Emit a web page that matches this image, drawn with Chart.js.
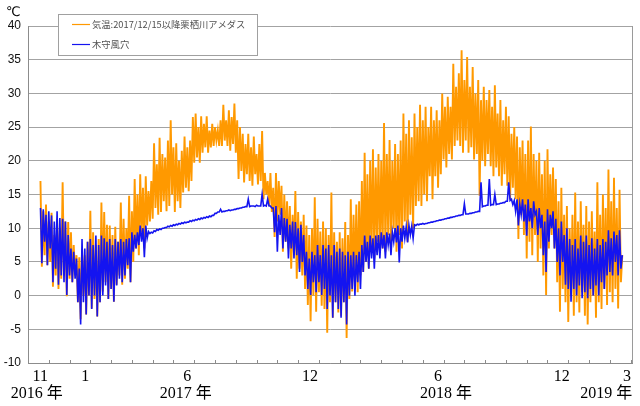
<!DOCTYPE html>
<html>
<head>
<meta charset="utf-8">
<script src="https://cdn.jsdelivr.net/npm/chart.js@4.4.1/dist/chart.umd.min.js"></script>
<style>
html,body{margin:0;padding:0;background:#fff;}
#wrap{width:640px;height:406px;position:relative;}
</style>
</head>
<body>
<div id="wrap"><canvas id="c"></canvas></div>
<script>
// x values: days since 2016-10-17 (axis start). Samples every 4 days, high then low 2 days later.
const sampleStartDay = 18;
const sampleStep = 4;

// 気温 (orange): upper and lower swings
const airHigh = [17,12.5,13.5,11,12.3,9,11.4,10,16.8,11,10.9,9.4,7.5,6,5.7,7,6,8,12.6,9.4,
7.5,8.4,13.8,12.4,10.5,10.4,9,10.2,8,13.8,11.4,10,14.8,12.5,17.3,15,18,16,17.7,15.5,
17,22.6,19.5,23.4,21,20.5,23,26,22,22.6,20,21.5,23.6,22,23,26.5,27,25,26.6,25.5,
26.6,24.5,25.5,25,24.5,26,28.3,26,27.5,26.5,28.5,26,25,24,22.5,24,22,23.6,21,22.5,
24.4,18.2,17,18.2,16,18.2,17,16.3,15,14,13.3,12,15.5,12.4,11,12,10.4,9,10,14.6,
11.4,9.5,11,10,9,15.3,9.4,8,9.4,8.5,10.9,9,14.3,12,13.5,14,17,21.2,18,20,
21.7,19,21,20,25.6,21,23.1,20,22.5,21,23,27,24,26,23.5,27,25,28.3,26,28,
25,28,26,27.5,26,30,28,29.5,28,34.4,31,33,36.4,32,35.4,31,33.9,30,32,29,
31,29,30.5,28,31.2,27,29,26,28,26.6,24,25,23.6,22,23,21,23,25.1,21,20,
21.2,18,20,21.7,18,19,17.3,14,16,12,13.3,10,12,15.3,11,14,10.5,13.3,11,12.5,
9.5,16.8,12,15,13,18.7,14,17.5,13,15.7,6];
const airLow = [4.3,6,4.5,5,1.3,3,1,2.5,3,-0.1,2.5,2,3,-1,-3.5,0,-2.8,0,-1.9,-0.5,
-3.1,-1,0.6,2,-0.5,1,-0.9,1.6,3,1.6,2.5,4,2,5,7,6,9.4,7,10.4,11,
11.4,13,12,12.4,14,12.5,13.3,15,12.4,14,13,15.3,16,15.5,17,19.7,20.5,19.7,21.2,22,
21.2,22,22.2,23,22.2,22.2,23,22.2,21.5,22.5,21.2,17.3,18.5,16.8,18,17,16.3,18,16.5,17,
14.3,15,13.3,12.4,8.7,11,12,6.5,8,7,4,6,2.5,4,3,1,-1.4,-3.8,0,-2.4,
0.5,-1.5,-2,-5.5,-1,-3.3,-1,-2.5,-3,-1,-6.3,-0.5,0.6,2,0.5,3,3.5,5,4,6.5,
5.5,8,6.5,7,6.5,9,7,10,6.5,9,7,11,8,12,10,13.3,14,13.3,15,14,
17.7,14.3,17.7,16,18,20.2,19,21,20.2,22.2,23,22.2,21.2,23,21.2,22,20.2,21,14.8,20,
19.2,21,19.2,17.7,19,17.7,16.3,18,16.3,14.3,16,14.3,8.4,12,9,5.5,8,6,9,5,
7,3,0.1,7,9,7,2,-2.4,1,-1,-3.9,0,-3,-1,-2.5,0.5,-3,-4.3,-1,0,
-3.3,-1,-2,1,-1.4,0.5,-1,1,-1.9,2];

// 木守風穴 (blue): upper and lower swings
const caveHigh = [13,12.8,12,12.5,11.9,11,12.5,11.5,11.4,11,9,7,6.5,5.5,4,8.4,7,8,8.4,7.5,
8.9,7.5,8.9,8.5,8,8.4,7.5,8.4,8,8.4,8,8.4,8.5,9.4,9,9.4,10.4,10,10.4,9.5,
9.4,9.6,9.8,9.9,10,10.1,10.3,10.4,10.5,10.6,10.7,10.8,10.9,10.9,11.1,11.2,11.3,11.4,11.5,11.6,
11.7,11.8,11.9,12.2,12.4,12.8,12.5,12.6,12.7,12.7,12.8,12.9,13,13.1,13.2,14.3,13.3,13.3,13.4,13.3,
15,13.4,14.3,13.3,13,13.3,12,13,11.5,11.4,10.5,11,10.9,10,10.5,9,6.5,5.5,6.5,6,
7.5,6,7.5,7,7.5,6,7.5,6.5,7,6.5,6,6.5,6,6.5,6,6.5,7.5,8.9,8,8.9,
8.5,8.9,9,9.4,9,9.4,9.2,9.4,10,10.4,10,10.4,10.2,10.4,10.3,10.5,10.6,10.6,10.7,10.7,
10.8,10.9,11,11.1,11.2,11.3,11.4,11.5,11.6,11.7,11.8,11.9,12,13.6,12.1,12.2,12.3,12.4,12.5,16.8,
13.3,13.4,17.3,13.5,15,13.6,13.7,13.8,14,16.8,14.3,14.1,14.3,13.5,14.3,13.5,14.3,13,14,12.5,
13,12,11,12.8,12,12.5,11.4,10,11,9,10,8.4,7.5,8.4,7,8.9,8,8.9,7.5,8.5,
7,8.4,7.5,8.4,8,9.7,8.5,9.5,9,9.7,6];
const caveLow = [4.8,8,4.5,7,2,4,1.6,3,2,0.1,3,2,2.5,-1,-4.3,-1,-2.8,0,-2,0,
-3.1,-1,0,1.5,-0.5,1,-0.9,1.5,2.5,2,3,4.5,2,6.5,7,7.5,8,5.7,8.5,9.2,
9.3,9.5,9.7,9.8,10,10.1,10.2,10.3,10.4,10.5,10.6,10.7,10.8,10.9,11,11.1,11.2,11.3,11.4,11.5,
11.6,11.7,11.9,12.2,12.4,12.4,12.5,12.6,12.6,12.7,12.8,12.9,13,13.1,13.2,13.2,13.3,13.2,13.3,13.3,
13.3,13.3,13.3,13,9.4,6.5,9,7,8,5.5,7,5.5,6,3.5,5,3,1,0.1,2,0.5,
2,0.1,1,-2,0,-3.3,-1,-2,-3.3,-1,-4.3,0,1,0,2,1,3.5,5,4,5.5,
4,6,5.5,7,5.5,7.5,6,8,7.9,4.9,8,8.5,7.9,9,8.5,10.4,10.5,10.6,10.6,10.7,
10.8,10.9,11,11.1,11.2,11.3,11.4,11.5,11.6,11.7,11.8,11.9,12,12.1,12.1,12.2,12.3,12.4,12.5,13.2,
13.3,13.4,13.4,13.5,13.5,13.6,13.7,13.8,14,14.1,13.5,12.5,10.4,12,11,8.9,11,10,12,9,
10,6,3.5,8,10,7,5,3,5,1.6,1,-0.9,1,0,1.5,-0.4,0.5,-0.4,1,0,
1.5,0,2,1,3,3.5,3,5,3,4];

// x-axis labels (position in days since axis start)
const monthLabelDays = [17.7, 82.7, 229.9, 407, 591.8, 770.6, 864.8];
const monthLabels = ['11', '1', '6', '12', '6', '12', '3'];
const yearLabelDays = [12.5, 227.8, 603.6, 835];
const yearLabels = ['2016 年', '2017 年', '2018 年', '2019 年'];
const yTicks = { min: -10, max: 40, step: 5 };
const seriesNames = ['気温:2017/12/15以降栗栖川アメダス', '木守風穴'];
const unitLabel = '℃';

function buildSeries(hi, lo) {
  const pts = [];
  for (let i = 0; i < hi.length; i++) {
    pts.push({ x: sampleStartDay + sampleStep * i, y: hi[i] });
    if (i < lo.length) pts.push({ x: sampleStartDay + sampleStep * i + sampleStep / 2, y: lo[i] });
  }
  return pts;
}

const xTicks = monthLabelDays.map((d, i) => ({ value: d, label: [monthLabels[i], ''] }))
  .concat(yearLabelDays.map((d, i) => ({ value: d, label: ['', yearLabels[i]] })))
  .sort((a, b) => a.value - b.value);

const ORANGE = '#ff9900';
const BLUE = '#1414f0';

const decor = {
  id: 'decor',
  afterDraw(chart) {
    const ctx = chart.ctx;
    const xs = chart.scales.x;
    const ca = chart.chartArea;
    ctx.save();
    // right frame
    ctx.strokeStyle = '#9a9a9a';
    ctx.lineWidth = 1;
    ctx.beginPath();
    ctx.moveTo(Math.round(ca.right) + 0.5, ca.top);
    ctx.lineTo(Math.round(ca.right) + 0.5, ca.bottom);
    ctx.stroke();
    // inward minor ticks every 30 days
    ctx.strokeStyle = '#8c8c8c';
    ctx.beginPath();
    for (let d = 0; d <= xs.max; d += 30) {
      const px = Math.round(xs.getPixelForValue(d)) + 0.5;
      ctx.moveTo(px, ca.bottom);
      ctx.lineTo(px, ca.bottom - 3);
    }
    ctx.stroke();
    // unit
    ctx.fillStyle = '#000';
    ctx.font = '13px "Liberation Sans", "DejaVu Sans", sans-serif';
    ctx.textBaseline = 'middle';
    ctx.textAlign = 'left';
    ctx.fillText(unitLabel, 6, 12);
    // legend box
    const lx = 58.5, ly = 14.5, lw = 199, lh = 41;
    ctx.fillStyle = '#fff';
    ctx.fillRect(lx, ly, lw, lh);
    ctx.strokeStyle = '#a0a0a0';
    ctx.lineWidth = 1;
    ctx.strokeRect(lx, ly, lw, lh);
    const items = [[ORANGE, 24.5], [BLUE, 44.5]];
    ctx.font = '9.3px "Noto Sans CJK JP", sans-serif';
    items.forEach((it, i) => {
      ctx.strokeStyle = it[0];
      ctx.lineWidth = 1.2;
      ctx.beginPath();
      ctx.moveTo(72, it[1]);
      ctx.lineTo(90, it[1]);
      ctx.stroke();
      ctx.fillStyle = '#505050';
      ctx.fillText(chart.data.datasets[i].label, 92, it[1]);
    });
    ctx.restore();
  }
};

new Chart(document.getElementById('c'), {
  type: 'line',
  data: {
    datasets: [
      { label: seriesNames[0], data: buildSeries(airHigh, airLow), borderColor: ORANGE, borderWidth: 1.9, pointRadius: 0, tension: 0, order: 1 },
      { label: seriesNames[1], data: buildSeries(caveHigh, caveLow), borderColor: BLUE, borderWidth: 1.6, pointRadius: 0, tension: 0, order: 0 }
    ]
  },
  options: {
    responsive: true,
    maintainAspectRatio: false,
    animation: false,
    devicePixelRatio: 1,
    layout: { padding: { top: 26, right: 8, left: 0, bottom: 0 } },
    plugins: { legend: { display: false }, tooltip: { enabled: false } },
    scales: {
      x: {
        type: 'linear',
        min: 0,
        max: 872,
        grid: { drawOnChartArea: false, drawTicks: false },
        border: { display: true, color: '#8c8c8c', width: 1 },
        afterBuildTicks: (s) => { s.ticks = xTicks.map(t => ({ value: t.value })); },
        afterFit: (s) => { s.height = 43; },
        ticks: {
          autoSkip: false,
          maxRotation: 0,
          minRotation: 0,
          padding: 5,
          color: '#000',
          font: { family: '"Liberation Serif", "Noto Sans CJK JP", serif', size: 16, lineHeight: 1.08 },
          callback: (v, i) => xTicks[i] ? xTicks[i].label : ''
        }
      },
      y: {
        min: yTicks.min,
        max: yTicks.max,
        grid: { color: '#a3a3a3', lineWidth: 1, drawTicks: false },
        border: { display: true, color: '#8c8c8c', width: 1 },
        afterFit: (s) => { s.width = 28; },
        ticks: {
          stepSize: yTicks.step,
          padding: 7,
          color: '#111',
          font: { family: '"Liberation Sans", Arial, sans-serif', size: 12 }
        }
      }
    }
  },
  plugins: [decor]
});
</script>
</body>
</html>
